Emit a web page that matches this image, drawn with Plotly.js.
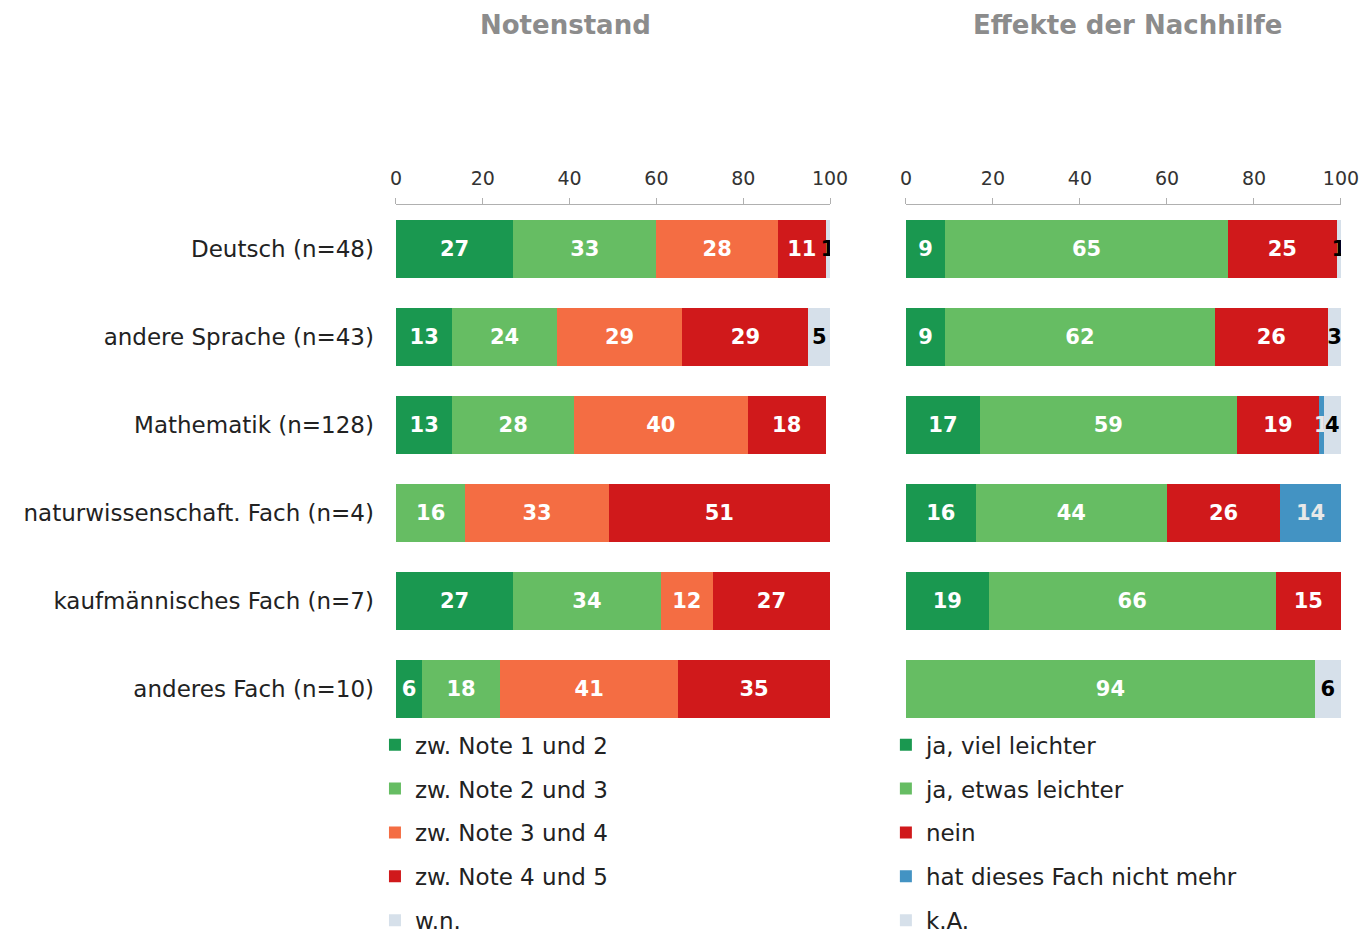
<!DOCTYPE html>
<html>
<head>
<meta charset="utf-8">
<script src="https://cdn.plot.ly/plotly-3.0.1.min.js"></script>
<style>
  body { margin: 0; background: #fff; }
  #chart { width: 1365px; height: 938px; }
</style>
</head>
<body>
<div id="chart"></div>
<script>
// Fächer (Zeilen)
const faecher = ['Deutsch (n=48)', 'andere Sprache (n=43)', 'Mathematik (n=128)',
  'naturwissenschaft. Fach (n=4)', 'kaufmännisches Fach (n=7)', 'anderes Fach (n=10)'];

// Notenstand (%)
const note12 = [27, 13, 13, 0, 27, 6];
const note23 = [33, 24, 28, 16, 34, 18];
const note34 = [28, 29, 40, 33, 12, 41];
const note45 = [11, 29, 18, 51, 27, 35];
const notenWn = [1, 5, 0, 0, 0, 0];

// Effekte der Nachhilfe (%)
const jaViel = [9, 9, 17, 16, 19, 0];
const jaEtwas = [65, 62, 59, 44, 66, 94];
const nein = [25, 26, 19, 26, 15, 0];
const nichtMehr = [0, 0, 1, 14, 0, 0];
const effektKa = [1, 3, 4, 0, 0, 6];

const FONT = '"DejaVu Sans", sans-serif';

function bar(name, values, color, textColor, side) {
  return {
    type: 'bar',
    orientation: 'h',
    name: name,
    y: faecher,
    x: values,
    text: values.map(v => v > 0 ? String(v) : ''),
    textposition: 'inside',
    insidetextanchor: 'middle',
    textfont: { family: FONT, size: 21, color: textColor, weight: 'bold' },
    marker: { color: color, line: { width: 0 } },
    xaxis: side === 'left' ? 'x' : 'x2',
    yaxis: side === 'left' ? 'y' : 'y2',
    legend: side === 'left' ? 'legend' : 'legend2',
    legendgroup: side + name,
    hoverinfo: 'x+name'
  };
}

const data = [
  bar('zw. Note 1 und 2', note12, '#1a9850', '#ffffff', 'left'),
  bar('zw. Note 2 und 3', note23, '#66bd63', '#ffffff', 'left'),
  bar('zw. Note 3 und 4', note34, '#f46d43', '#ffffff', 'left'),
  bar('zw. Note 4 und 5', note45, '#d0191b', '#ffffff', 'left'),
  bar('w.n.', notenWn, '#d6e0ea', '#000000', 'left'),
  bar('ja, viel leichter', jaViel, '#1a9850', '#ffffff', 'right'),
  bar('ja, etwas leichter', jaEtwas, '#66bd63', '#ffffff', 'right'),
  bar('nein', nein, '#d0191b', '#ffffff', 'right'),
  bar('hat dieses Fach nicht mehr', nichtMehr, '#4393c3', '#e8e8e8', 'right'),
  bar('k.A.', effektKa, '#d6e0ea', '#000000', 'right')
];

const xCommon = {
  range: [0, 100],
  side: 'top',
  dtick: 20,
  showgrid: false,
  zeroline: false,
  showline: true,
  linecolor: '#b0b0b0',
  linewidth: 1,
  ticks: 'outside',
  ticklen: 6,
  tickcolor: '#b0b0b0',
  ticklabelstandoff: 5,
  tickfont: { family: FONT, size: 19, color: '#333' },
  fixedrange: true
};

const yCommon = {
  type: 'category',
  categoryorder: 'array',
  categoryarray: faecher,
  autorange: 'reversed',
  domain: [0.2186, 0.7815],
  showgrid: false,
  zeroline: false,
  showline: false,
  ticks: '',
  fixedrange: true
};

const legendCommon = {
  orientation: 'v',
  yanchor: 'top',
  xanchor: 'left',
  y: 0.229,
  tracegroupgap: 11,
  font: { family: FONT, size: 23, color: '#222' },
  bgcolor: 'rgba(0,0,0,0)'
};

const layout = {
  width: 1365,
  height: 938,
  margin: { l: 0, r: 0, t: 0, b: 0, autoexpand: false },
  paper_bgcolor: '#ffffff',
  plot_bgcolor: '#ffffff',
  barmode: 'stack',
  bargap: 0.34,
  showlegend: true,
  uniformtext: { mode: 'show', minsize: 21 },
  font: { family: FONT, color: '#222' },
  xaxis: Object.assign({}, xCommon, { domain: [0.2901, 0.6081], anchor: 'y' }),
  xaxis2: Object.assign({}, xCommon, { domain: [0.6637, 0.9824], anchor: 'y2' }),
  yaxis: Object.assign({}, yCommon, {
    anchor: 'x',
    ticklabelstandoff: 21,
    tickfont: { family: FONT, size: 23, color: '#222' }
  }),
  yaxis2: Object.assign({}, yCommon, { anchor: 'x2', showticklabels: false }),
  legend: Object.assign({}, legendCommon, { x: 0.2747 }),
  legend2: Object.assign({}, legendCommon, { x: 0.649 }),
  annotations: [
    {
      text: 'Notenstand', xref: 'paper', yref: 'paper', x: 0.414, y: 1 - 25 / 938,
      xanchor: 'center', yanchor: 'middle', showarrow: false,
      font: { family: FONT, size: 26, color: '#8c8c8c', weight: 'bold' }
    },
    {
      text: 'Effekte der Nachhilfe', xref: 'paper', yref: 'paper', x: 0.8264, y: 1 - 25 / 938,
      xanchor: 'center', yanchor: 'middle', showarrow: false,
      font: { family: FONT, size: 26, color: '#8c8c8c', weight: 'bold' }
    }
  ]
};

Plotly.newPlot('chart', data, layout, { displayModeBar: false, responsive: false });
</script>
</body>
</html>
